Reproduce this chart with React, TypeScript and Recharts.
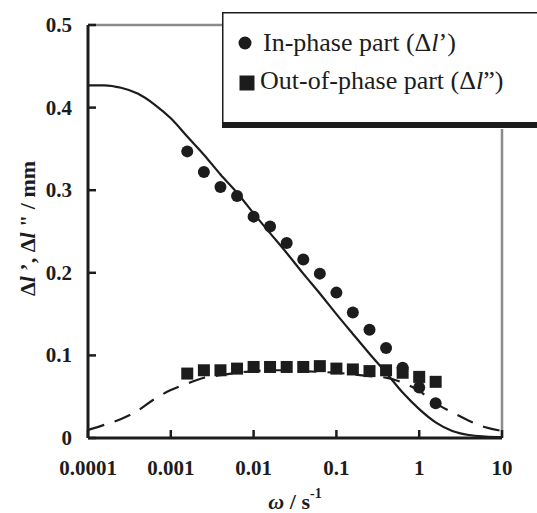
import {
  ComposedChart,
  Line,
  Scatter,
  XAxis,
  YAxis,
  ReferenceLine,
  Legend,
} from 'recharts'

const FONT = "'Liberation Serif', 'Times New Roman', serif"
const INK = '#1c1c1c'
const FRAME = '#8c8c8c'

// measured points (angular frequency, s^-1)
const omega = [0.00158, 0.00251, 0.00398, 0.00631, 0.01, 0.0158, 0.0251, 0.0398, 0.0631, 0.1, 0.158, 0.251, 0.398, 0.631, 1.0, 1.58]
const inPhase = [0.347, 0.322, 0.304, 0.293, 0.268, 0.256, 0.236, 0.216, 0.199, 0.176, 0.152, 0.131, 0.109, 0.085, 0.061, 0.042]
const outPhase = [0.078, 0.082, 0.082, 0.084, 0.086, 0.086, 0.086, 0.086, 0.087, 0.084, 0.083, 0.081, 0.082, 0.079, 0.074, 0.068]

// fitted curves
const fitOmega = [
  0.0001, 0.000158, 0.000251, 0.000398, 0.000631, 0.001, 0.00158, 0.00251, 0.00398, 0.00631, 0.01, 0.0158, 0.0251,
  0.0398, 0.0631, 0.1, 0.158, 0.251, 0.398, 0.631, 1, 1.58, 2.51, 3.98, 6.31, 10,
]
const fitInPhase = [
  0.427, 0.427, 0.424, 0.417, 0.404, 0.387, 0.365, 0.343, 0.319, 0.297, 0.272, 0.248, 0.224, 0.199, 0.175, 0.15, 0.126,
  0.102, 0.079, 0.055, 0.035, 0.019, 0.0085, 0.0036, 0.0018, 0.001,
]
const fitOutPhase = [
  0.0097, 0.016, 0.023, 0.033, 0.047, 0.058, 0.066, 0.073, 0.076, 0.079, 0.081, 0.082, 0.082, 0.081, 0.08, 0.079, 0.077,
  0.075, 0.073, 0.067, 0.057, 0.042, 0.031, 0.021, 0.013, 0.0085,
]

const xTicks = [0.0001, 0.001, 0.01, 0.1, 1, 10]
const yTicks = [0, 0.1, 0.2, 0.3, 0.4, 0.5]

const inPts = omega.map((w, i) => ({ w, v: inPhase[i] }))
const outPts = omega.map((w, i) => ({ w, v: outPhase[i] }))
const inFit = fitOmega.map((w, i) => ({ w, v: fitInPhase[i] }))
const outFit = fitOmega.map((w, i) => ({ w, v: fitOutPhase[i] }))

function XTick({ x, y, payload }: any) {
  const ay = y - 1
  return (
    <g>
      <line x1={x} x2={x} y1={ay} y2={ay - 8} stroke={INK} strokeWidth={2.5} />
      <text x={x} y={ay + 37} textAnchor="middle" fontFamily={FONT} fontWeight={700} fontSize={21} fill={INK}>
        {String(payload.value)}
      </text>
    </g>
  )
}

function YTick({ x, y, payload }: any) {
  const ax = x + 1
  return (
    <g>
      <line x1={ax} x2={ax + 8} y1={y} y2={y} stroke={INK} strokeWidth={2.5} />
      <text x={ax - 16} y={y + 7} textAnchor="end" fontFamily={FONT} fontWeight={700} fontSize={21} fill={INK}>
        {String(payload.value)}
      </text>
    </g>
  )
}

function Dot({ cx, cy }: any) {
  return <circle cx={cx} cy={cy} r={6} fill={INK} />
}

function Sq({ cx, cy }: any) {
  return <rect x={cx - 6} y={cy - 6} width={12} height={12} fill={INK} />
}

function YTitle({ viewBox }: any) {
  const cx = viewBox.x + 27
  const cy = viewBox.y + viewBox.height / 2 - 3
  return (
    <text
      x={cx}
      y={cy}
      transform={`rotate(-90 ${cx} ${cy})`}
      textAnchor="middle"
      dominantBaseline="central"
      fontFamily={FONT}
      fontWeight={700}
      fontSize={22}
      fill={INK}
    >
      <tspan>Δ</tspan>
      <tspan fontStyle="italic">l</tspan>
      <tspan> ’, Δ</tspan>
      <tspan fontStyle="italic">l</tspan>
      <tspan> " / mm</tspan>
    </text>
  )
}

function XTitle({ viewBox }: any) {
  const cx = viewBox.x + viewBox.width / 2
  const by = viewBox.y + 71
  return (
    <text x={cx} y={by} textAnchor="middle" fontFamily={FONT} fontWeight={700} fontSize={22} fill={INK}>
      <tspan fontStyle="italic">ω</tspan>
      <tspan> / s</tspan>
      <tspan fontSize={14} dy={-11}>-1</tspan>
    </text>
  )
}

function LegendBox() {
  return (
    <svg width={315} height={117} style={{ display: 'block' }}>
      <rect x={0} y={0} width={315} height={117} fill="#fff" />
      <line x1={0} x2={315} y1={0.75} y2={0.75} stroke={INK} strokeWidth={1.5} />
      <line x1={0.75} x2={0.75} y1={0} y2={112} stroke={INK} strokeWidth={1.5} />
      <rect x={0} y={110} width={315} height={6} fill={INK} />
      <circle cx={23} cy={31} r={6.5} fill={INK} />
      <text x={41} y={39} fontFamily={FONT} fontSize={26} fill={INK}>
        In-phase part (Δ<tspan fontStyle="italic">l</tspan>’)
      </text>
      <rect x={17.5} y={63.5} width={15} height={15} fill={INK} />
      <text x={38} y={77} fontFamily={FONT} fontSize={26} fill={INK}>
        Out-of-phase part (Δ<tspan fontStyle="italic">l</tspan>”)
      </text>
    </svg>
  )
}

export default function App() {
  return (
    <div style={{ position: 'absolute', left: 0, top: 0, width: 537, height: 513, background: '#fff' }}>
      <ComposedChart width={537} height={513} margin={{ top: 25, right: 35, bottom: 45, left: 0 }}>
        <XAxis
          dataKey="w"
          type="number"
          scale="log"
          domain={[0.0001, 10]}
          allowDataOverflow
          ticks={xTicks}
          height={30}
          tickSize={1}
          tickMargin={0}
          tickLine={false}
          axisLine={{ stroke: INK, strokeWidth: 3 }}
          tick={<XTick />}
          label={<XTitle />}
        />
        <YAxis
          dataKey="v"
          type="number"
          domain={[0, 0.5]}
          ticks={yTicks}
          width={88}
          tickSize={1}
          tickMargin={0}
          tickLine={false}
          axisLine={{ stroke: INK, strokeWidth: 3 }}
          tick={<YTick />}
          label={<YTitle />}
        />
        <ReferenceLine y={0.5} stroke={FRAME} strokeWidth={2.5} />
        <ReferenceLine x={10} stroke={FRAME} strokeWidth={2.5} />
        <Line
          data={inFit}
          dataKey="v"
          type="monotone"
          stroke={INK}
          strokeWidth={2.2}
          dot={false}
          activeDot={false}
          isAnimationActive={false}
        />
        <Line
          data={outFit}
          dataKey="v"
          type="monotone"
          stroke={INK}
          strokeWidth={2.2}
          strokeDasharray="17 11"
          dot={false}
          activeDot={false}
          isAnimationActive={false}
        />
        <Scatter data={outPts} dataKey="v" shape={<Sq />} isAnimationActive={false} />
        <Scatter data={inPts} dataKey="v" shape={<Dot />} isAnimationActive={false} />
        <Legend
          layout="vertical"
          align="center"
          verticalAlign="middle"
          content={() => <LegendBox />}
          wrapperStyle={{ left: 222, top: 12, width: 315, height: 117 }}
        />
      </ComposedChart>
    </div>
  )
}
